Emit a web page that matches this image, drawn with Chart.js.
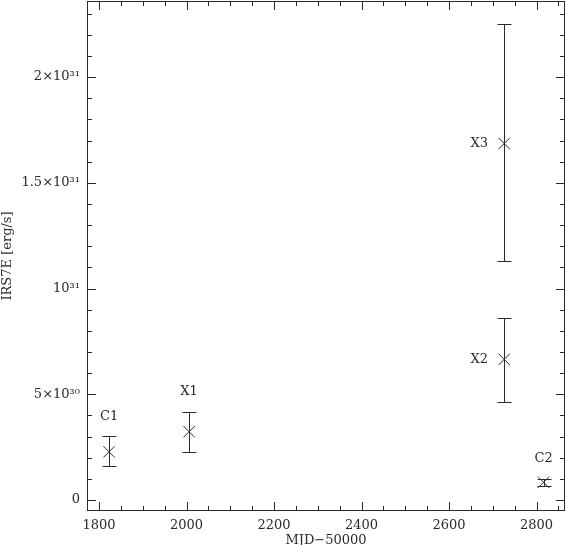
<!DOCTYPE html>
<html>
<head>
<meta charset="utf-8">
<script src="https://cdn.jsdelivr.net/npm/chart.js@4"></script>
<style>
  html, body { margin: 0; padding: 0; background: #fff; }
  #wrap { width: 566px; height: 545px; position: relative; }
</style>
</head>
<body>
<div id="wrap"><canvas id="grafico"></canvas></div>
<script>
const nomes = ["C1", "X1", "X2", "X3", "C2"];
const mjd = [1823, 2006, 2726, 2726, 2816];
const lum = [2.28e30, 3.23e30, 6.65e30, 1.686e31, 0.84e30];
const lumMin = [1.62e30, 2.25e30, 4.65e30, 1.130e31, 0.66e30];
const lumMax = [3.01e30, 4.17e30, 8.62e30, 2.249e31, 1.01e30];
const posRotulo = ["acima", "acima", "esquerda", "esquerda", "acima"];

const xTicks = [1800, 2000, 2200, 2400, 2600, 2800];
const yTicks = [0, 5e30, 1e31, 1.5e31, 2e31];
const yRotulos = ["0", "5×10³⁰", "10³¹", "1.5×10³¹", "2×10³¹"];

const cor = "#2a2a2a";
const fonte = {family: "DejaVu Serif", size: 13};

const moldura = {
  id: "moldura",
  afterDatasetsDraw(chart){
    const ctx = chart.ctx;
    const a = chart.chartArea;
    const sx = chart.scales.x, sy = chart.scales.y;
    ctx.save();
    ctx.strokeStyle = cor;
    ctx.lineWidth = 1;
    ctx.strokeRect(a.left + 0.5, a.top + 0.5, a.right - a.left - 1, a.bottom - a.top - 1);

    // ticks para dentro nos quatro lados
    ctx.beginPath();
    for(let v = 1800; v <= sx.max; v += 50){
      if(v < sx.min) continue;
      const px = Math.round(sx.getPixelForValue(v)) + 0.5;
      const len = v % 200 === 0 ? 9 : 5;
      ctx.moveTo(px, a.bottom); ctx.lineTo(px, a.bottom - len);
      ctx.moveTo(px, a.top); ctx.lineTo(px, a.top + len);
    }
    for(let i = 0; i <= 23; i++){
      const v = i * 1e30;
      const py = Math.round(sy.getPixelForValue(v)) + 0.5;
      const len = i % 5 === 0 ? 9 : 5;
      ctx.moveTo(a.left, py); ctx.lineTo(a.left + len, py);
      ctx.moveTo(a.right, py); ctx.lineTo(a.right - len, py);
    }
    ctx.stroke();

    // barras de erro
    ctx.beginPath();
    mjd.forEach((m, i) => {
      const px = Math.round(sx.getPixelForValue(m)) + 0.5;
      const yt = Math.round(sy.getPixelForValue(lumMax[i])) + 0.5;
      const yb = Math.round(sy.getPixelForValue(lumMin[i])) + 0.5;
      ctx.moveTo(px, yt); ctx.lineTo(px, yb);
      ctx.moveTo(px - 7, yt); ctx.lineTo(px + 7, yt);
      ctx.moveTo(px - 7, yb); ctx.lineTo(px + 7, yb);
    });
    ctx.stroke();

    // rótulos dos pontos
    ctx.fillStyle = cor;
    ctx.font = fonte.size + "px " + fonte.family;
    ctx.textAlign = "center";
    ctx.textBaseline = "middle";
    nomes.forEach((n, i) => {
      const px = sx.getPixelForValue(mjd[i]);
      if(posRotulo[i] === "acima"){
        ctx.fillText(n, px, sy.getPixelForValue(lumMax[i]) - 20);
      }else{
        ctx.fillText(n, px - 25, sy.getPixelForValue(lum[i]));
      }
    });
    ctx.restore();
  }
};

new Chart(document.getElementById("grafico"), {
  type: "scatter",
  data: {
    datasets: [{
      data: mjd.map((m, i) => ({x: m, y: lum[i]})),
      pointStyle: "crossRot",
      pointRadius: 8,
      pointHoverRadius: 8,
      borderColor: cor,
      backgroundColor: cor,
      borderWidth: 1
    }]
  },
  options: {
    responsive: true,
    maintainAspectRatio: false,
    animation: false,
    events: [],
    layout: {autoPadding: false, padding: {top: 1, right: 1, left: 0, bottom: 0}},
    plugins: {legend: {display: false}, tooltip: {enabled: false}},
    scales: {
      x: {
        type: "linear",
        min: 1772.6,
        max: 2865,
        afterBuildTicks: s => { s.ticks = xTicks.map(v => ({value: v})); },
        afterFit: s => { s.height = 34; s.paddingLeft = 0; s.paddingRight = 0; },
        grid: {display: false, drawTicks: false},
        border: {display: false},
        ticks: {color: cor, font: fonte, padding: 7, maxRotation: 0, autoSkip: false,
                callback: v => String(v)},
        title: {display: true, text: "MJD−50000", color: cor,
                font: {family: fonte.family, size: fonte.size, lineHeight: 0.75}, padding: 0}
      },
      y: {
        type: "linear",
        min: -5.2e29,
        max: 2.36e31,
        afterBuildTicks: s => { s.ticks = yTicks.map(v => ({value: v})); },
        afterFit: s => { s.width = 87; s.paddingTop = 0; s.paddingBottom = 0; },
        grid: {display: false, drawTicks: false},
        border: {display: false},
        ticks: {color: cor, font: fonte, padding: 7, autoSkip: false,
                callback: v => yRotulos[yTicks.indexOf(v)] ?? ""},
        title: {display: true, text: "IRS7E [erg/s]", color: cor, font: fonte, padding: 0}
      }
    }
  },
  plugins: [moldura]
});
</script>
</body>
</html>
